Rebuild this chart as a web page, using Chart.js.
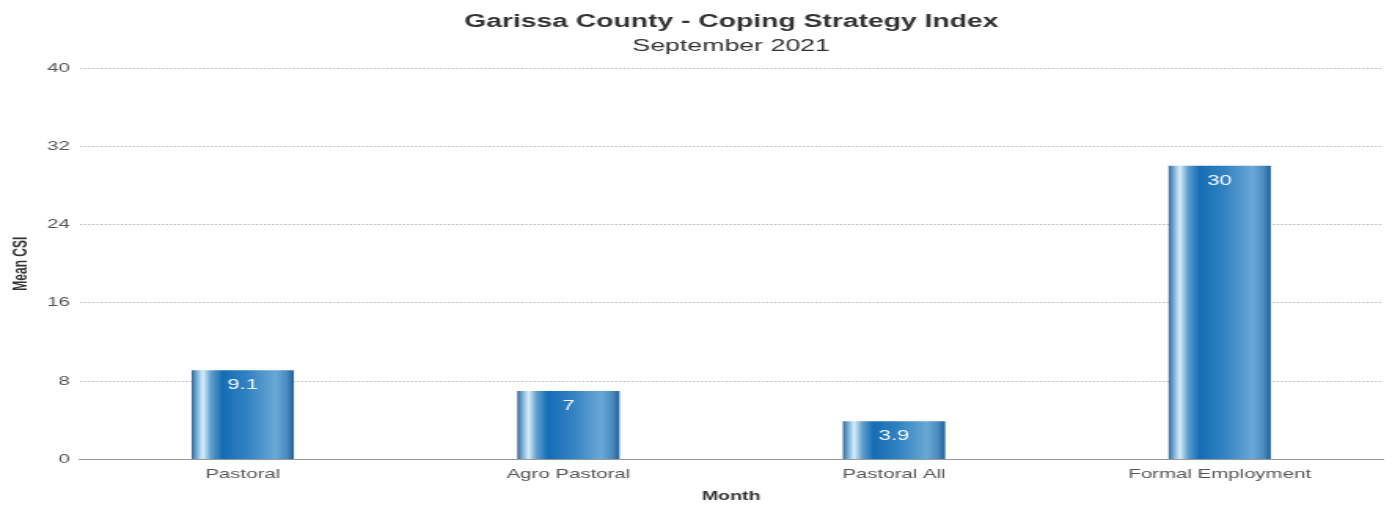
<!DOCTYPE html>
<html>
<head>
<meta charset="utf-8">
<script src="https://cdn.jsdelivr.net/npm/chart.js@4.4.1/dist/chart.umd.min.js"></script>
<style>
  html, body { margin: 0; padding: 0; background: #fff; overflow: hidden; }
  /* o gráfico é desenhado mais estreito e esticado na horizontal */
  #wrap {
    width: 886px;
    height: 505px;
    transform: scale(1.571, 1);
    transform-origin: 0 0;
  }
</style>
</head>
<body>
<div id="wrap"><canvas id="csiChart"></canvas></div>
<script>
// CSI por zona de sustento
const categories = ['Pastoral', 'Agro Pastoral', 'Pastoral All', 'Formal Employment'];
const meanCsi = [9.1, 7, 3.9, 30];
const yTicks = [0, 8, 16, 24, 32, 40];

const BAR_PCT = 0.314;
const FONT = '"Liberation Sans", Arial, Helvetica, sans-serif';

// gradiente horizontal em cada barra (efeito cilindro)
function barGradient(context) {
    const chart = context.chart;
    const area = chart.chartArea;
    if (!area) return '#1a6fb5';
    const xScale = chart.scales.x;
    const cx = xScale.getPixelForValue(context.dataIndex);
    const half = (area.width / categories.length) * BAR_PCT / 2;
    const g = chart.ctx.createLinearGradient(cx - half, 0, cx + half, 0);
    g.addColorStop(0.00, '#2d679b');
    g.addColorStop(0.05, '#79add3');
    g.addColorStop(0.11, '#d8eefa');
    g.addColorStop(0.19, '#5d9fd0');
    g.addColorStop(0.30, '#166db4');
    g.addColorStop(0.55, '#3383c2');
    g.addColorStop(0.82, '#6aa8d6');
    g.addColorStop(0.93, '#4a8cc0');
    g.addColorStop(1.00, '#235d93');
    return g;
}

// rótulos de valor dentro do topo das barras
const valueLabels = {
    id: 'valueLabels',
    afterDatasetsDraw(chart) {
        const ctx = chart.ctx;
        const meta = chart.getDatasetMeta(0);
        ctx.save();
        ctx.fillStyle = '#f4f8fc';
        ctx.font = '14px ' + FONT;
        ctx.textAlign = 'center';
        ctx.textBaseline = 'middle';
        meta.data.forEach((bar, i) => {
            ctx.fillText(String(meanCsi[i]), bar.x, bar.y + 15);
        });
        ctx.restore();
    }
};

new Chart(document.getElementById('csiChart'), {
    type: 'bar',
    data: {
        labels: categories,
        datasets: [{
            label: 'Mean CSI',
            data: meanCsi,
            backgroundColor: barGradient,
            borderWidth: 0,
            barPercentage: BAR_PCT,
            categoryPercentage: 1
        }]
    },
    plugins: [valueLabels],
    options: {
        responsive: true,
        maintainAspectRatio: false,
        animation: false,
        layout: { padding: { top: 11, right: 6, left: 6, bottom: 1 } },
        plugins: {
            legend: { display: false },
            tooltip: { enabled: false },
            // títulos centrados sobre a área do gráfico
            title: {
                display: true,
                fullSize: false,
                text: 'Garissa County - Coping Strategy Index',
                color: '#333',
                font: { family: FONT, size: 18, weight: 'bold' },
                padding: { top: 0, bottom: 4 }
            },
            subtitle: {
                display: true,
                fullSize: false,
                text: 'September 2021',
                color: '#333',
                font: { family: FONT, size: 17 },
                padding: { top: 0, bottom: 11 }
            }
        },
        scales: {
            x: {
                grid: { display: false, drawTicks: false },
                border: { display: true, color: '#999', width: 1 },
                ticks: {
                    color: '#555',
                    font: { family: FONT, size: 13 },
                    padding: 7
                },
                title: {
                    display: true,
                    text: 'Month',
                    color: '#333',
                    font: { family: FONT, size: 12.5, weight: 'bold' },
                    padding: { top: 0, bottom: 0 }
                }
            },
            y: {
                min: 0,
                max: 40,
                afterBuildTicks(axis) {
                    axis.ticks = yTicks.map(v => ({ value: v }));
                },
                grid: {
                    color: '#b4b4b4',
                    drawTicks: false,
                    tickLength: 0
                },
                border: { display: false, dash: [1.3, 1.3] },
                ticks: {
                    color: '#555',
                    font: { family: FONT, size: 13 },
                    padding: 6.5
                },
                title: {
                    display: true,
                    text: 'Mean CSI',
                    color: '#333',
                    font: { family: FONT, size: 12, weight: 'bold' },
                    padding: { top: 0, bottom: 3 }
                }
            }
        }
    }
});
</script>
</body>
</html>
